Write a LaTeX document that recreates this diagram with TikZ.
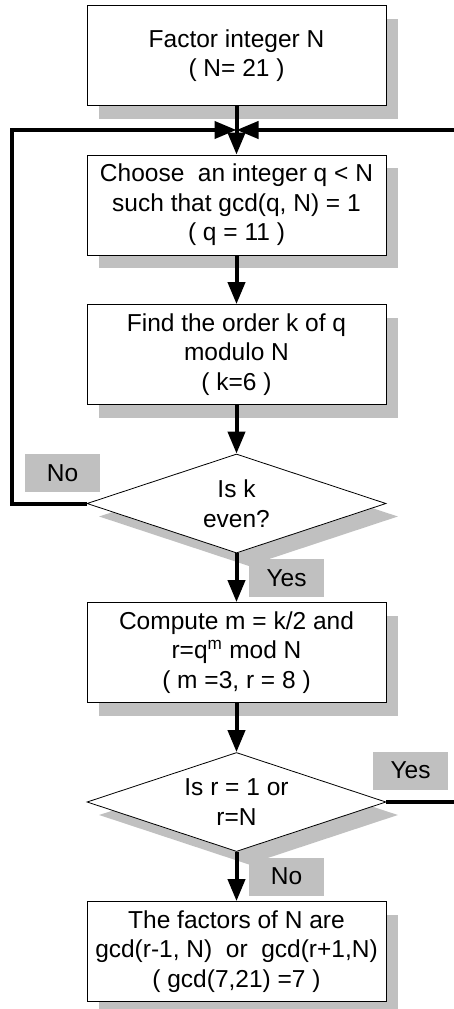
\documentclass[tikz,border=0pt]{standalone}
\usepackage{fontspec}
\setmainfont{Liberation Sans}
\usepackage{tikz}
\usetikzlibrary{shapes.geometric,arrows.meta,shadows}
\definecolor{shade}{RGB}{192,192,192}

\begin{document}
\begin{tikzpicture}[x=1pt,y=-1pt,
        font=\fontsize{24.5}{29.5}\selectfont,
        box/.style={draw=black,fill=white,line width=0.8pt,minimum width=299pt,minimum height=100pt,align=center,
            drop shadow={shadow xshift=12pt,shadow yshift=-13pt,fill=shade,opacity=1}},
        test/.style={box,shape=diamond,shape aspect=3,minimum height=99pt,inner sep=0pt},
        tag/.style={fill=shade,minimum width=75pt,minimum height=38pt,inner sep=0pt},
        flow/.style={line width=4pt,-{Triangle[length=22pt,width=17pt]}}]
        \useasboundingbox (0,0) rectangle (454,1009);

        \node[box] (start) at (236.5,55.5) {Factor integer N\\( N= 21 )};
        \node[box] (pick) at (236.5,205) {Choose ~an integer q < N\\such that gcd(q, N) = 1\\( q = 11 )};
        \node[box] (order) at (236.5,354.5) {Find the order k of q\\modulo N\\( k=6 )};
        \node[test] (even) at (236.5,503.5) {Is k\\even?};
        \node[box] (half) at (236.5,652.5) {Compute m = k/2 and\\r=q\textsuperscript{m} mod N\\( m =3, r = 8 )};
        \node[test] (trivial) at (236.5,802) {Is r = 1 or\\r=N};
        \node[box] (factors) at (236.5,951.5) {The factors of N are\\gcd(r-1, N) ~or ~gcd(r+1,N)\\( gcd(7,21) =7 )};

        \node[tag] (no1) at (62.5,473) {No};
        \node[tag] (yes1) at (286.5,578) {Yes};
        \node[tag] (yes2) at (410.5,770.5) {Yes};
        \node[tag] (no2) at (286.5,876.5) {No};

        \coordinate (join) at (236.5,130);

        \draw[flow](start) -- (pick);
        \draw[flow](pick) -- (order);
        \draw[flow](order) -- (even);
        \draw[flow](even) -- (half);
        \draw[flow](half) -- (trivial);
        \draw[flow](trivial) -- (factors);
        \draw[flow](even.west) -- ++(-75,0) |- (join);
        \draw[flow](trivial.east) -- ++(71,0) |- (join);
    \end{tikzpicture}
\end{document}
